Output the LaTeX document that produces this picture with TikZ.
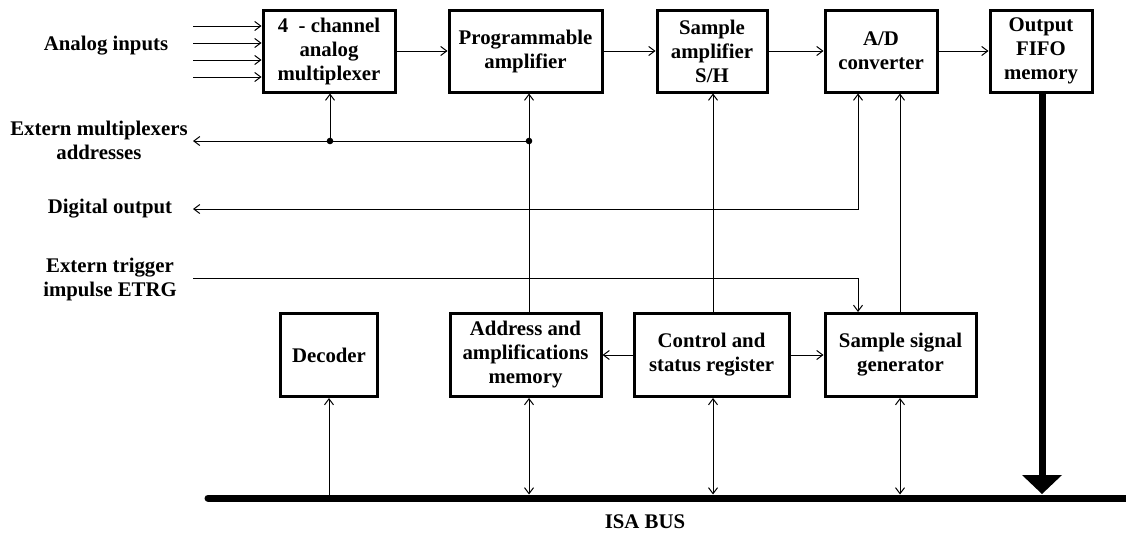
\documentclass[tikz,border=0pt]{standalone}
\usepackage{fontspec}
\setmainfont{Liberation Serif}
\usetikzlibrary{arrows.meta}
\begin{document}
\begin{tikzpicture}[x=1pt,y=-1pt,
  font=\bfseries\fontsize{20.8}{24}\selectfont,
  >={Straight Barb[length=6pt,width=9pt]},
  conn/.style={line width=1pt},
  blk/.style={draw,line width=3pt,inner sep=0pt,align=center},
  lbl/.style={inner sep=0pt,align=center}]
\useasboundingbox (0,0) rectangle (1126,533);
% top row
\node[blk,minimum width=132,minimum height=82] (mux) at (329,51) {4\ \ - channel\\analog\\multiplexer};
\node[blk,minimum width=153,minimum height=82] (prog) at (525.5,51) {Programmable\\amplifier};
\node[blk,minimum width=110,minimum height=82] (samp) at (712,51) {Sample\\amplifier\\S/H};
\node[blk,minimum width=112,minimum height=82] (ad) at (881,51) {A/D\\converter};
\node[blk,minimum width=102,minimum height=82] (fifo) at (1041,51) {Output\\FIFO\\memory};
% bottom row
\node[blk,minimum width=97,minimum height=83] (dec) at (329,355) {Decoder};
\node[blk,minimum width=151,minimum height=83] (addr) at (525.5,355) {Address and\\amplifications\\memory};
\node[blk,minimum width=155,minimum height=83] (ctrl) at (711.5,355) {Control and\\status register};
\node[blk,minimum width=151,minimum height=83] (sg) at (900.5,355) {Sample signal\\generator};
% left labels
\node[lbl] (lai) at (106,46) {Analog inputs};
\node[lbl] (lem) at (99,140) {Extern multiplexers\\addresses};
\node[lbl] (ldo) at (110,209) {Digital output};
\node[lbl] (ltr) at (110,279) {Extern trigger\\impulse ETRG};
\node[lbl] (lisa) at (645,522) {ISA BUS};
% coordinates
\coordinate (ai1) at (193,26);
\coordinate (ai2) at (193,43);
\coordinate (ai3) at (193,60);
\coordinate (ai4) at (193,77);
\coordinate (em) at (193,141);
\coordinate (d1) at (330,141);
\coordinate (d2) at (529,141);
\coordinate (dout) at (193,209);
\coordinate (c1) at (858,209);
\coordinate (trg) at (193,278);
\coordinate (vs) at (713,0);
\coordinate (v9) at (900,0);
\coordinate (busL) at (208,498);
\coordinate (busR) at (1130,498);
\coordinate (busT) at (0,494.5);
% analog inputs
\foreach \a in {ai1,ai2,ai3,ai4} \draw[conn,->] (\a) -- (\a -| mux.west);
% chain
\draw[conn,->] (mux) -- (prog);
\draw[conn,->] (prog) -- (samp);
\draw[conn,->] (samp) -- (ad);
\draw[conn,->] (ad) -- (fifo);
% extern multiplexer addresses
\draw[conn,->] (d2) -- (em);
\draw[conn,->] (d1) -- (d1 |- mux.south);
\draw[conn,->] (addr.north -| d2) -- (d2 |- prog.south);
\fill (d1) circle (3.3);
\fill (d2) circle (3.3);
% sample amplifier control
\draw[conn,->] (ctrl.north -| vs) -- (samp.south -| vs);
% digital output
\draw[conn,<->] (ad.south -| c1) -- (c1) -- (dout);
% trigger
\draw[conn,->] (trg) -| (sg.north -| c1);
% sample signal to A/D
\draw[conn,->] (sg.north -| v9) -- (ad.south -| v9);
% control outputs
\draw[conn,->] (ctrl.west) -- (addr.east);
\draw[conn,->] (ctrl.east) -- (sg.west);
% bus
\draw[line width=7pt,line cap=round] (busL) -- (busR);
\draw[conn,->] (dec.south |- busT) -- (dec.south);
\draw[conn,<->] (addr.south -| d2) -- (d2 |- busT);
\draw[conn,<->] (ctrl.south -| vs) -- (vs |- busT);
\draw[conn,<->] (sg.south -| v9) -- (v9 |- busT);
% FIFO to bus
\coordinate (ft) at (1042,476);
\draw[line width=7pt] (fifo.south -| ft) -- (ft);
\fill (1022,475) -- (1062,475) -- (1042,494) -- cycle;
\end{tikzpicture}
\end{document}
